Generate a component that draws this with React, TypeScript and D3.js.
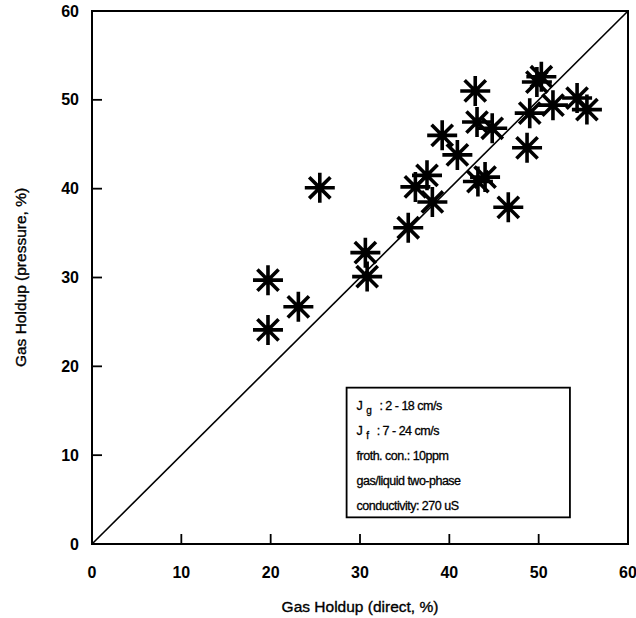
import React, { useEffect, useRef } from "react";
import * as d3 from "d3";

const directHoldup = [
  42.9, 49.8, 50.3, 54.3, 55.4, 49.0, 51.6, 43.1, 44.8, 39.2, 48.7, 40.9,
  37.5, 36.2, 38.1, 44.0, 43.2, 46.6, 25.5, 35.4, 30.6, 30.8, 19.7, 23.1, 19.7,
];
const pressureHoldup = [
  51.0, 52.0, 52.6, 50.2, 48.9, 48.5, 49.4, 47.5, 46.8, 46.0, 44.6, 43.8,
  41.5, 40.2, 38.5, 41.3, 40.8, 37.9, 40.1, 35.6, 32.8, 30.1, 29.7, 26.7, 24.1,
];

const xTicks = [0, 10, 20, 30, 40, 50, 60];
const yTicks = [0, 10, 20, 30, 40, 50, 60];

const xTitle = "Gas Holdup (direct, %)";
const yTitle = "Gas Holdup (pressure, %)";

// legend lines: [main, subscript, rest]
const legendLines: [string, string, string][] = [
  ["J", "g", ": 2 - 18 cm/s"],
  ["J", "f", ": 7 - 24 cm/s"],
  ["froth. con.: 10ppm", "", ""],
  ["gas/liquid two-phase", "", ""],
  ["conductivity: 270 uS", "", ""],
];

const App: React.FC = () => {
  const svgRef = useRef<SVGSVGElement | null>(null);

  useEffect(() => {
    if (!svgRef.current) return;
    const svg = d3.select(svgRef.current);
    svg.selectAll("*").remove();

    const width = 636;
    const height = 618;
    const margin = { top: 11, right: 8, bottom: 74, left: 92 };
    const plotW = width - margin.left - margin.right;
    const plotH = height - margin.top - margin.bottom;
    const font = "Liberation Sans, Arial, sans-serif";

    svg.attr("width", width).attr("height", height);
    svg.append("rect").attr("width", width).attr("height", height).attr("fill", "#fff");

    const g = svg.append("g").attr("transform", `translate(${margin.left},${margin.top})`);

    const x = d3.scaleLinear().domain([0, 60]).range([0, plotW]);
    const y = d3.scaleLinear().domain([0, 60]).range([plotH, 0]);

    // frame
    g.append("rect")
      .attr("width", plotW)
      .attr("height", plotH)
      .attr("fill", "none")
      .attr("stroke", "#000")
      .attr("stroke-width", 2);

    // inward ticks, bottom and left only
    g.selectAll(".xt")
      .data(xTicks.slice(1, -1))
      .enter()
      .append("line")
      .attr("x1", (d) => x(d))
      .attr("x2", (d) => x(d))
      .attr("y1", plotH)
      .attr("y2", plotH - 10)
      .attr("stroke", "#000")
      .attr("stroke-width", 1.8);

    g.selectAll(".yt")
      .data(yTicks.slice(1, -1))
      .enter()
      .append("line")
      .attr("x1", 0)
      .attr("x2", 10)
      .attr("y1", (d) => y(d))
      .attr("y2", (d) => y(d))
      .attr("stroke", "#000")
      .attr("stroke-width", 1.8);

    // tick labels
    g.selectAll(".xl")
      .data(xTicks)
      .enter()
      .append("text")
      .attr("x", (d) => x(d))
      .attr("y", plotH + 34)
      .attr("text-anchor", "middle")
      .attr("font-family", font)
      .attr("font-size", "16px")
      .attr("font-weight", "bold")
      .text((d) => d.toString());

    g.selectAll(".yl")
      .data(yTicks)
      .enter()
      .append("text")
      .attr("x", -13)
      .attr("y", (d) => y(d))
      .attr("dy", "0.35em")
      .attr("text-anchor", "end")
      .attr("font-family", font)
      .attr("font-size", "16px")
      .attr("font-weight", "bold")
      .text((d) => d.toString());

    // axis titles
    g.append("text")
      .attr("x", plotW / 2)
      .attr("y", plotH + 68)
      .attr("text-anchor", "middle")
      .attr("font-family", font)
      .attr("font-size", "15.5px")
      .attr("stroke", "#000")
      .attr("stroke-width", 0.35)
      .text(xTitle);

    g.append("text")
      .attr("transform", "rotate(-90)")
      .attr("x", -plotH / 2)
      .attr("y", -66)
      .attr("text-anchor", "middle")
      .attr("font-family", font)
      .attr("font-size", "15.5px")
      .attr("stroke", "#000")
      .attr("stroke-width", 0.35)
      .text(yTitle);

    // 1:1 line
    g.append("line")
      .attr("x1", x(0))
      .attr("y1", y(0))
      .attr("x2", x(60))
      .attr("y2", y(60))
      .attr("stroke", "#000")
      .attr("stroke-width", 1.6);

    // legend box
    const lx = x(28.5);
    const ly = y(17.6);
    const lw = x(53.5) - lx;
    const lh = y(3.0) - ly;
    const legend = g.append("g").attr("transform", `translate(${lx},${ly})`);
    legend
      .append("rect")
      .attr("width", lw)
      .attr("height", lh)
      .attr("fill", "#fff")
      .attr("stroke", "#000")
      .attr("stroke-width", 1.8);

    legendLines.forEach((ln, i) => {
      const t = legend
        .append("text")
        .attr("x", 10)
        .attr("y", 22 + i * 25)
        .attr("font-family", font)
        .attr("font-size", "12.5px")
        .attr("letter-spacing", "-0.5px")
        .attr("stroke", "#000")
        .attr("stroke-width", 0.3);
      t.append("tspan").text(ln[0]);
      if (ln[1]) {
        t.append("tspan")
          .attr("dx", 4)
          .attr("dy", 4)
          .attr("font-size", "10px")
          .text(ln[1]);
        t.append("tspan").attr("dx", 8).attr("dy", -4).text(ln[2]);
      }
    });

    // asterisk markers
    const r = 15;
    const star = [0, 45, 90, 135]
      .map((a) => {
        const dx = r * Math.cos((a * Math.PI) / 180);
        const dy = r * Math.sin((a * Math.PI) / 180);
        return `M${-dx},${-dy}L${dx},${dy}`;
      })
      .join("");

    g.selectAll(".pt")
      .data(directHoldup.map((d, i) => [d, pressureHoldup[i]]))
      .enter()
      .append("path")
      .attr("transform", (d) => `translate(${x(d[0])},${y(d[1])})`)
      .attr("d", star)
      .attr("fill", "none")
      .attr("stroke", "#000")
      .attr("stroke-width", 3.6)
      .attr("stroke-linecap", "butt");
  }, []);

  return (
    <svg
      ref={svgRef}
      style={{ position: "absolute", left: 0, top: 0, display: "block" }}
    />
  );
};

export default App;
